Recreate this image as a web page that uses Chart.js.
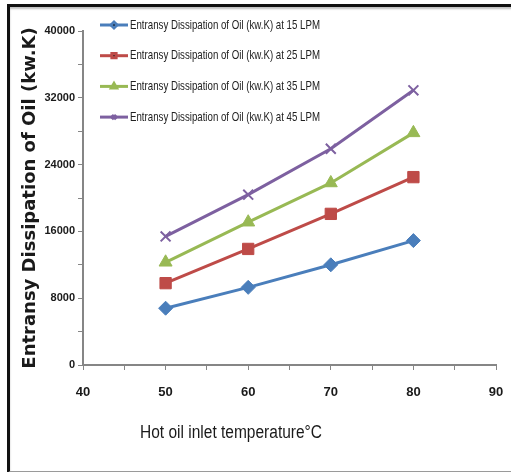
<!DOCTYPE html>
<html>
<head>
<meta charset="utf-8">
<script src="https://cdn.jsdelivr.net/npm/chart.js@4.4.0/dist/chart.umd.min.js"></script>
<style>
    html, body { margin: 0; padding: 0; background: #fff; }
    #wrap { position: relative; width: 511px; height: 472px; }
    #frame {
        position: absolute; left: 7px; top: 4px; width: 520px; height: 464px;
        border-top: 3px solid #111; border-left: 3px solid #111; border-bottom: 2px solid #9a9a9a;
        box-shadow: inset 0 2px 2px rgba(0,0,0,0.25);
        pointer-events: none;
    }
</style>
</head>
<body>
<div id="wrap">
    <canvas id="chart" width="511" height="472"></canvas>
    <div id="frame"></div>
</div>
<script>
// Values
const temps = [50, 60, 70, 80];
const dissip15 = [6800, 9300, 12000, 14900];
const dissip25 = [9800, 13900, 18100, 22500];
const dissip35 = [12300, 17100, 21800, 27800];
const dissip45 = [15400, 20400, 25900, 32900];

const seriesLabels = [
    'Entransy Dissipation of Oil (kw.K) at 15 LPM',
    'Entransy Dissipation of Oil (kw.K) at 25 LPM',
    'Entransy Dissipation of Oil (kw.K) at 35 LPM',
    'Entransy Dissipation of Oil (kw.K) at 45 LPM'
];
const xTitle = 'Hot oil inlet temperature°C';
const yTitle = 'Entransy Dissipation of Oil (kw.K)';

const SANS = "'Liberation Sans', Arial, sans-serif";

function toPoints(values) {
    return values.map((v, i) => ({ x: temps[i], y: v }));
}

function makeSet(label, values, color, style, radius) {
    return {
        label: label,
        data: toPoints(values),
        borderColor: color,
        backgroundColor: color,
        borderWidth: 3,
        pointStyle: style,
        pointRadius: radius,
        pointBorderWidth: style === 'crossRot' ? 2 : 1,
        showLine: true,
        tension: 0
    };
}

// draw text squeezed sideways, the original uses a tall narrow face
function narrowText(ctx, text, x, y, size, width, align) {
    ctx.font = size + 'px ' + SANS;
    const w = ctx.measureText(text).width;
    const k = width / w;
    ctx.save();
    ctx.translate(x, y);
    ctx.scale(k, 1);
    ctx.textAlign = align;
    ctx.textBaseline = 'middle';
    ctx.fillText(text, 0, 0);
    ctx.restore();
}

// Legend drawn inside plot, stacked, like the original
const sideLegend = {
    id: 'sideLegend',
    afterDraw(chart) {
        const ctx = chart.ctx;
        ctx.save();
        chart.data.datasets.forEach((ds, i) => {
            const y = 25 + i * 30.7;
            ctx.strokeStyle = ds.borderColor;
            ctx.lineWidth = 3;
            ctx.beginPath();
            ctx.moveTo(100, y);
            ctx.lineTo(128, y);
            ctx.stroke();
            Chart.helpers.drawPoint(ctx, {
                pointStyle: ds.pointStyle, radius: 3, borderWidth: 1.5
            }, 114, y);
            ctx.fillStyle = '#222';
            narrowText(ctx, ds.label, 130, y, 13, 190, 'left');
        });
        // x axis title, sits left of centre in the original
        ctx.fillStyle = '#1a1a1a';
        narrowText(ctx, xTitle, 231, 433, 18, 182, 'center');
        ctx.restore();
    }
};

const ctx = document.getElementById('chart').getContext('2d');
new Chart(ctx, {
    type: 'scatter',
    data: {
        datasets: [
            makeSet(seriesLabels[0], dissip15, '#4a7ebb', 'rectRot', 7),
            makeSet(seriesLabels[1], dissip25, '#be4b48', 'rect', 8),
            makeSet(seriesLabels[2], dissip35, '#98b954', 'triangle', 7.5),
            makeSet(seriesLabels[3], dissip45, '#7d60a0', 'crossRot', 7)
        ]
    },
    options: {
        responsive: false,
        animation: false,
        layout: { padding: { top: 31, right: 15, left: 0, bottom: 0 } },
        plugins: {
            legend: { display: false },
            tooltip: { enabled: false }
        },
        scales: {
            x: {
                type: 'linear',
                min: 40,
                max: 90,
                afterFit(scale) {
                    scale.height = 107;
                    // tick padding would otherwise widen the right margin
                    scale.paddingLeft = 8;
                    scale.paddingRight = 8;
                },
                grid: { drawOnChartArea: false, tickLength: 5, color: '#868686' },
                border: { color: '#868686', width: 2 },
                ticks: {
                    stepSize: 5,
                    padding: 15,
                    color: '#1a1a1a',
                    font: { family: SANS, size: 13, weight: 'bold' },
                    callback: v => (v % 10 === 0 ? v : '')
                }
            },
            y: {
                min: 0,
                max: 40000,
                afterFit(scale) { scale.width = 83; },
                grid: { drawOnChartArea: false, tickLength: 5, color: '#868686' },
                border: { color: '#868686', width: 2 },
                title: {
                    display: true,
                    text: yTitle,
                    color: '#1a1a1a',
                    padding: { top: 20, bottom: 0 },
                    font: { family: "'DejaVu Sans', sans-serif", size: 18, weight: 'bold' }
                },
                ticks: {
                    stepSize: 4000,
                    padding: 3,
                    color: '#1a1a1a',
                    font: { family: SANS, size: 11, weight: 'bold' },
                    callback: v => (v % 8000 === 0 ? v : '')
                }
            }
        }
    },
    plugins: [sideLegend]
});
</script>
</body>
</html>
